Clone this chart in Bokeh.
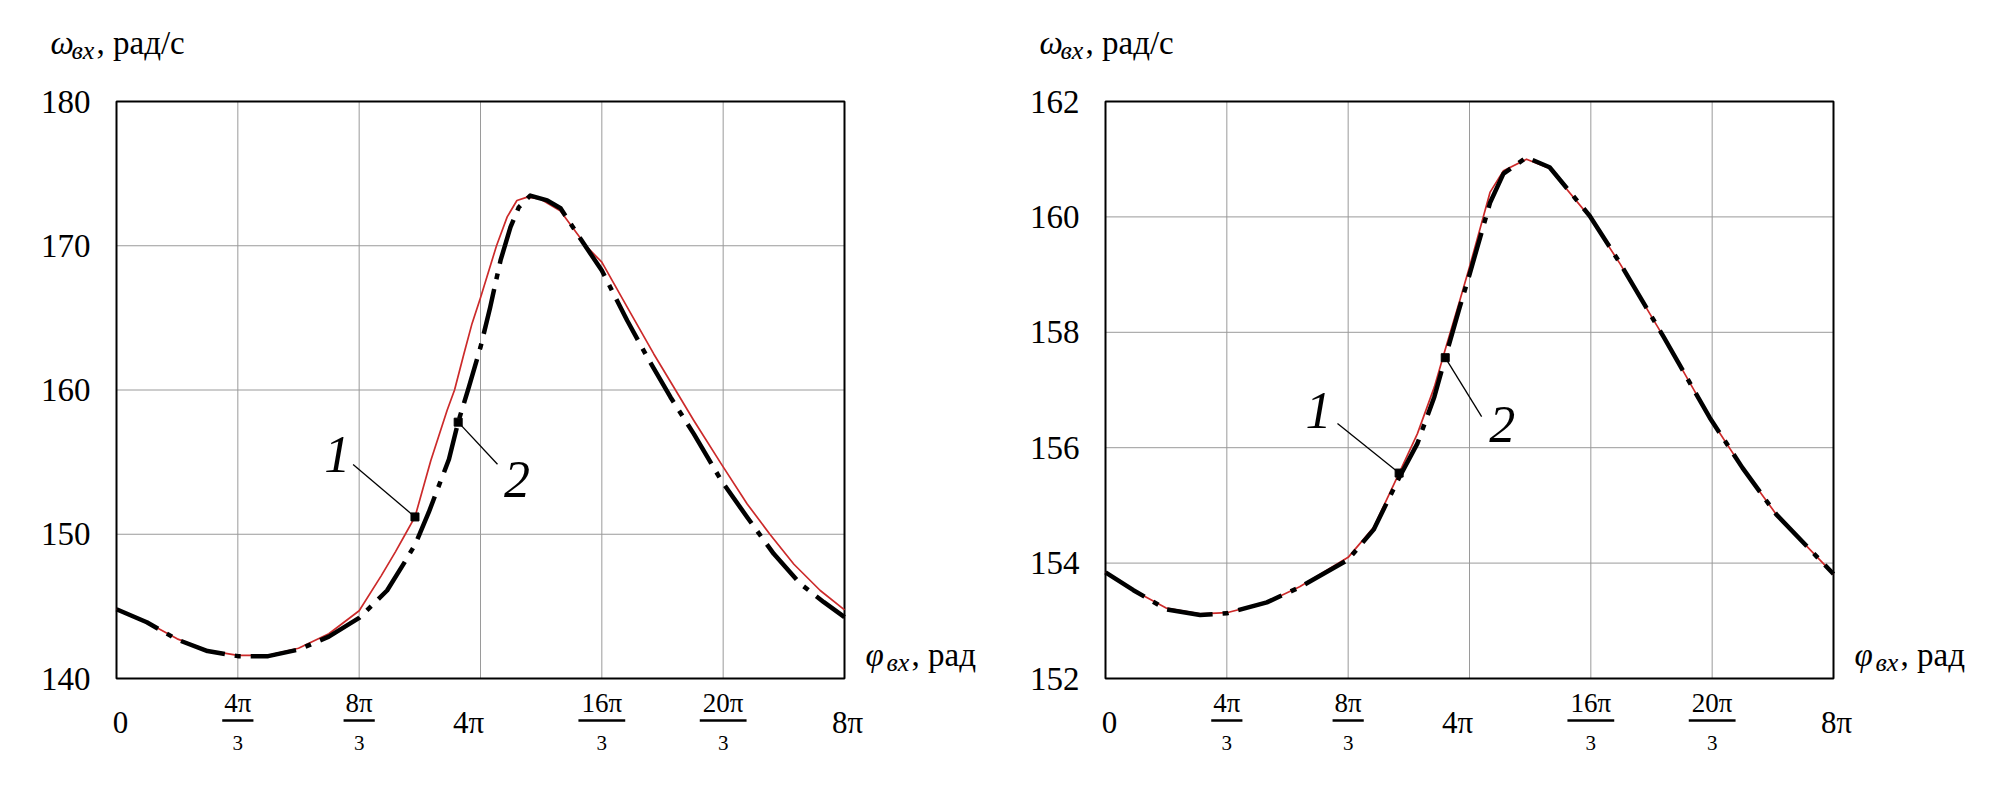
import numpy as np
from bokeh.plotting import figure
from bokeh.layouts import row
from bokeh.models import Range1d
from bokeh.core.properties import value
from bokeh.embed import file_html
from bokeh.resources import INLINE

PI = np.pi
STEP = 4 * PI / 3          # one grid step of the phi axis, rad

# ---------------- data (phi in grid steps of 4π/3, omega in rad/s) ----------------
left_red_u = [0.00, 0.25, 0.50, 0.75, 1.00, 1.25, 1.50, 1.75, 2.00, 2.18, 2.30, 2.38,
              2.46, 2.59, 2.725, 2.786, 2.863, 2.93, 3.00, 3.132, 3.22, 3.30, 3.385, 3.49,
              3.66, 3.879, 4.00, 4.209, 4.428, 4.607, 4.758, 4.984, 5.198, 5.385, 5.583,
              5.80, 6.00]
left_red_w = [144.8, 143.9, 142.75, 141.95, 141.6, 141.6, 142.1, 143.1, 144.7, 147.1, 148.8, 150.0,
              151.2, 155.1, 158.6, 160.0, 162.5, 164.6, 166.4, 170.0, 172.0, 173.14, 173.37, 173.25,
              172.4, 169.9, 168.86, 165.74, 162.5, 160.0, 157.89, 154.88, 152.1, 150.0, 147.92,
              146.1, 144.76]

left_blk_u = [0.00, 0.25, 0.50, 0.75, 1.00, 1.25, 1.50, 1.75, 2.00, 2.23, 2.37, 2.464,
              2.574, 2.74, 2.816, 2.904, 3.00, 3.08, 3.165, 3.247, 3.316, 3.41, 3.55, 3.66,
              3.824, 4.00, 4.209, 4.374, 4.566, 4.758, 4.984, 5.198, 5.417, 5.637, 5.83,
              6.00]
left_blk_w = [144.8, 143.9, 142.7, 141.9, 141.55, 141.55, 142.0, 142.9, 144.2, 146.1, 148.0, 149.33,
              151.53, 155.2, 157.77, 160.2, 162.97, 165.74, 168.98, 171.29, 172.67, 173.48, 173.14, 172.6,
              170.48, 168.28, 164.82, 162.28, 159.5, 156.96, 153.73, 151.18, 148.64, 146.56, 145.29,
              144.25]

right_red_u = [0.00, 0.23, 0.50, 0.78, 1.00, 1.33, 1.60, 2.00, 2.21, 2.42, 2.57, 2.71,
               2.80, 2.92, 3.00, 3.17, 3.28, 3.47, 3.66, 3.99, 4.24, 4.60, 4.98, 5.25,
               5.53, 6.00]
right_red_w = [153.84, 153.53, 153.22, 153.12, 153.14, 153.32, 153.59, 154.1, 154.62, 155.56, 156.24, 157.05,
               157.7, 158.55, 159.13, 160.43, 160.8, 161.0, 160.84, 160.0, 159.19, 157.92, 156.52, 155.65,
               154.84, 153.81]

right_blk_u = [0.00, 0.23, 0.50, 0.78, 1.00, 1.33, 1.60, 2.00, 2.21, 2.42, 2.57, 2.71,
               2.80, 2.92, 3.00, 3.17, 3.28, 3.47, 3.66, 3.99, 4.24, 4.60, 4.98, 5.25,
               5.53, 6.00]
right_blk_w = [153.84, 153.53, 153.2, 153.1, 153.13, 153.32, 153.58, 154.06, 154.58, 155.48, 156.07, 156.88,
               157.56, 158.44, 159.0, 160.25, 160.75, 161.03, 160.86, 160.02, 159.2, 157.92, 156.52, 155.65,
               154.84, 153.81]

# axis ticks
x_tick_steps = [0, 1, 2, 3, 4, 5, 6]
x_whole_steps = [0, 3, 6]
x_whole_text = ["0", "4π", "8π"]
x_frac_steps = [1, 2, 4, 5]
x_frac_num = ["4π", "8π", "16π", "20π"]
x_frac_den = ["3", "3", "3", "3"]
left_y_ticks = [140, 150, 160, 170, 180]
right_y_ticks = [152, 154, 156, 158, 160, 162]

# callouts: text, text position (steps, omega), leader start (steps, omega), point (steps, omega)
left_callout_text = ["1", "2"]
left_callout_pos = [(1.82, 155.56), (3.30, 153.83)]
left_callout_lead = [(1.95, 154.84), (3.14, 154.85)]
left_callout_pt = [(2.46, 151.2), (2.816, 157.77)]

right_callout_text = ["1", "2"]
right_callout_pos = [(1.755, 156.64), (3.27, 156.40)]
right_callout_lead = [(1.912, 156.42), (3.10, 156.54)]
right_callout_pt = [(2.42, 155.56), (2.80, 157.56)]

SERIF = value("Liberation Serif")
H = 776            # canvas height
FW, FH = 728, 577  # plot box size in px
BOX_L, BOX_T = 116, 101   # plot box offset inside the canvas


def make_panel(red_u, red_w, blk_u, blk_w, y_lo, y_hi, y_ticks,
               c_text, c_pos, c_lead, c_pt, width, box_l):
    x_lo, x_hi = 0.0, 8 * PI
    s = (x_hi - x_lo) / FW
    k = (y_hi - y_lo) / FH

    def X(dx):   # px offset from the box's left edge -> data
        return x_lo + dx * s

    def Y(dy):   # px offset below the box's top edge -> data
        return y_hi - dy * k

    p = figure(width=width, height=H, x_range=Range1d(X(-box_l), X(width - box_l)),
               y_range=Range1d(Y(H - BOX_T), Y(-BOX_T)),
               x_axis_type=None, y_axis_type=None, title=None,
               output_backend="svg", toolbar_location=None, min_border=0)
    p.background_fill_color = "white"
    p.border_fill_color = "white"
    p.outline_line_color = None

    xt = [t * STEP for t in x_tick_steps]
    # grid
    p.segment(x0=xt, y0=[y_lo] * len(xt), x1=xt, y1=[y_hi] * len(xt),
              line_color="#9a9a9a", line_width=1)
    p.segment(x0=[x_lo] * len(y_ticks), y0=y_ticks, x1=[x_hi] * len(y_ticks), y1=y_ticks,
              line_color="#9a9a9a", line_width=1)
    # box
    p.quad(left=[x_lo], right=[x_hi], bottom=[y_lo], top=[y_hi],
           fill_color=None, line_color="black", line_width=2)

    # y tick labels
    p.text(x=[X(-26)] * len(y_ticks), y=y_ticks, text=[str(t) for t in y_ticks],
           text_font=SERIF, text_font_size="33px", text_color="black",
           text_align="right", text_baseline="middle")

    # x tick labels
    offs = {0: 4, 3: -12, 6: 3}
    p.text(x=[k_ * STEP + offs[k_] * s for k_ in x_whole_steps], y=[Y(621)] * 3,
           text=x_whole_text, text_font=SERIF, text_font_size="31px", text_color="black",
           text_align="center", text_baseline="middle")
    fx = [k_ * STEP for k_ in x_frac_steps]
    p.text(x=fx, y=[Y(601)] * len(fx), text=x_frac_num, text_font=SERIF,
           text_font_size="27px", text_color="black", text_align="center",
           text_baseline="middle")
    p.text(x=fx, y=[Y(641)] * len(fx), text=x_frac_den, text_font=SERIF,
           text_font_size="21px", text_color="black", text_align="center",
           text_baseline="middle")
    half = [7.8 * len(t) * s for t in x_frac_num]
    p.segment(x0=[a - h for a, h in zip(fx, half)], y0=[Y(619)] * len(fx),
              x1=[a + h for a, h in zip(fx, half)], y1=[Y(619)] * len(fx),
              line_color="black", line_width=2.5)

    # axis titles
    def title(dx, dy, main, sub, rest):
        p.text(x=[X(dx)], y=[Y(dy)], text=[main], text_font=SERIF, text_font_style="italic",
               text_font_size="33px", text_color="black", text_align="left",
               text_baseline="middle")
        p.text(x=[X(dx + 21)], y=[Y(dy + 8)], text=[sub], text_font=SERIF,
               text_font_style="italic", text_font_size="26px", text_color="black",
               text_align="left", text_baseline="middle")
        p.text(x=[X(dx + 46)], y=[Y(dy)], text=[rest], text_font=SERIF,
               text_font_size="33px", text_color="black", text_align="left",
               text_baseline="middle")
    title(-66, -59, "ω", "вх", ", рад/с")
    title(749, 553, "φ", "вх", ", рад")

    # curves
    p.line(np.array(red_u) * STEP, red_w, line_color="#cc2a2a", line_width=1.7,
           line_join="round")
    p.line(np.array(blk_u) * STEP, blk_w, line_color="black", line_width=4.5,
           line_dash="46 10 6 10", line_join="round")

    # callouts
    p.segment(x0=[a[0] * STEP for a in c_lead], y0=[a[1] for a in c_lead],
              x1=[a[0] * STEP for a in c_pt], y1=[a[1] for a in c_pt],
              line_color="black", line_width=1.3)
    p.scatter(x=[a[0] * STEP for a in c_pt], y=[a[1] for a in c_pt],
              marker="square", size=8, fill_color="black", line_color="black")
    p.text(x=[a[0] * STEP for a in c_pos], y=[a[1] for a in c_pos], text=c_text,
           text_font=SERIF, text_font_style="italic", text_font_size="52px",
           text_color="black", text_align="center", text_baseline="middle")
    return p


W1, W2 = 989, 995
p1 = make_panel(left_red_u, left_red_w, left_blk_u, left_blk_w, 140, 180, left_y_ticks,
                left_callout_text, left_callout_pos, left_callout_lead, left_callout_pt,
                W1, BOX_L)
p2 = make_panel(right_red_u, right_red_w, right_blk_u, right_blk_w, 152, 162, right_y_ticks,
                right_callout_text, right_callout_pos, right_callout_lead, right_callout_pt,
                W2, 1105 - W1)

layout = row(p1, p2)
open("out.html", "w").write(file_html(layout, INLINE))
